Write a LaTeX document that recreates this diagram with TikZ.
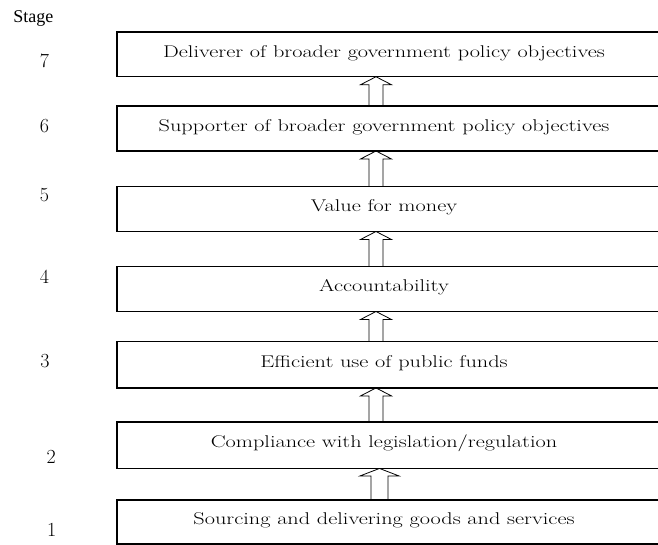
\documentclass[tikz,border=0pt]{standalone}
\usepackage{fontspec}
\usepackage{graphicx}
\usetikzlibrary{calc}
\newfontfamily\timesf{Liberation Serif}
\newcommand{\widetxt}[1]{\scalebox{1.31}[1]{#1}}
\tikzset{
  stagebox/.style={rectangle, draw=none, minimum width=534pt, minimum height=45pt,
    inner sep=0pt, outer sep=0pt, text height=12pt, text depth=6.5pt,
    font=\fontsize{17}{20}\selectfont},
  frame/.style={line width=1.1pt, black},
  arrowline/.style={line width=0.8pt, black, line join=miter},
  stagenum/.style={font=\fontsize{20}{22}\selectfont, inner sep=0pt, anchor=base},
}
\newcommand{\myframe}[1]{%
  \draw[frame] ($(#1.north east)+(30,0)$) -- (#1.north west) -- (#1.south west) -- ($(#1.south east)+(30,0)$);}
% #1 lower node, #2 upper node, #3 x offset, #4 shaft half width, #5 head half width, #6 head length
\newcommand{\myblockarr}[6]{%
  \draw[arrowline] ($(#1.north)+(#3-#4,0)$) -- ($(#2.south)+(#3-#4,#6)$) -- ($(#2.south)+(#3-#5,#6)$)
    -- ($(#2.south)+(#3,0)$) -- ($(#2.south)+(#3+#5,#6)$) -- ($(#2.south)+(#3+#4,#6)$) -- ($(#1.north)+(#3+#4,0)$);}
\begin{document}
\begin{tikzpicture}[x=1pt,y=-1pt]
\useasboundingbox (0,0) rectangle (658,545);
\clip (0,0) rectangle (658,545);
\node[font={\timesf\fontsize{18}{20}\selectfont}, anchor=base, inner sep=0pt] (stage) at (33.4,23) {Stage};

\node[stagebox, minimum height=44.7pt] (s7) at (384,54.4) {\widetxt{Deliverer of broader government policy objectives}};
\node[stagebox] (s6) at (384,128.5) {\widetxt{Supporter of broader government policy objectives}};
\node[stagebox] (s5) at (384,209) {\widetxt{Value for money}};
\node[stagebox] (s4) at (384,289) {\widetxt{Accountability}};
\node[stagebox, minimum height=46.5pt] (s3) at (384,364.7) {\widetxt{Efficient use of public funds}};
\node[stagebox, minimum height=46.5pt] (s2) at (384,445.2) {\widetxt{Compliance with legislation/regulation}};
\node[stagebox, minimum height=44pt] (s1) at (384,522) {\widetxt{Sourcing and delivering goods and services}};

\myframe{s7}\myframe{s6}\myframe{s5}\myframe{s4}\myframe{s3}\myframe{s2}\myframe{s1}

\node[stagenum] (n7) at (44.5,68) {7};
\node[stagenum] (n6) at (44.5,133) {6};
\node[stagenum] (n5) at (44.5,202) {5};
\node[stagenum] (n4) at (44.5,283.5) {4};
\node[stagenum] (n3) at (45,367.3) {3};
\node[stagenum] (n2) at (51.3,463.5) {2};
\node[stagenum] (n1) at (51.7,536.5) {1};

\myblockarr{s6}{s7}{-8}{7}{15.5}{8}
\myblockarr{s5}{s6}{-8}{7}{15.5}{8}
\myblockarr{s4}{s5}{-8}{7}{15.5}{8}
\myblockarr{s3}{s4}{-8}{7}{15.5}{8}
\myblockarr{s2}{s3}{-8}{7}{15.5}{8}
\myblockarr{s1}{s2}{-4.5}{8.5}{19.5}{7.5}
\end{tikzpicture}
\end{document}
